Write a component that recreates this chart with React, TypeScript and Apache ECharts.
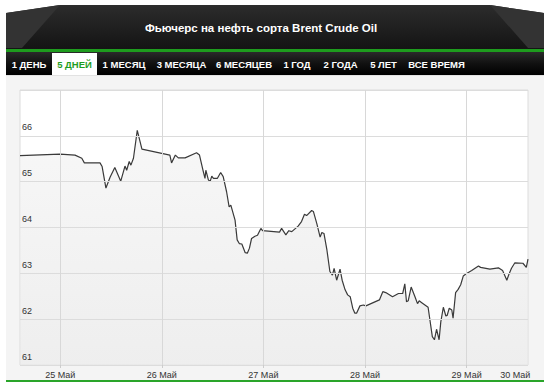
import React, { useEffect, useRef } from "react";
import * as echarts from "echarts";

// Hours since 25 May 00:00 and Brent price
const hours = [
  -9.5, 0, 3.5, 5.1, 5.7, 9.4, 9.9, 10.8, 11.8, 12.9, 14.3, 15.3, 15.7, 16.3, 16.7, 17.3, 18.2, 19.3,
  25.9, 26.3, 27.2, 27.9, 29.5, 32.2, 32.9, 33.8, 34.2, 34.4, 35.0, 35.4, 35.8, 36.2, 37.1, 37.9, 38.5,
  39.3, 39.9, 40.3, 41.3, 41.8, 42.3, 42.9, 43.7, 44.2, 44.7, 45.2, 46.0, 46.6, 47.4, 47.8, 51.8, 52.3,
  53.3, 54.0, 54.7, 56.2, 57.0, 57.7, 58.2, 59.4, 59.8, 60.6, 61.4, 61.8, 62.3, 63.0, 63.7, 64.3, 64.7,
  65.3, 66.1, 66.6, 67.3, 67.9, 68.5, 69.1, 69.6, 70.0, 70.8, 71.6, 72.2, 75.4, 76.2, 76.9, 78.5, 79.9,
  80.9, 81.4, 81.8, 82.2, 82.9, 83.8, 84.4, 84.8, 85.4, 86.9, 87.9, 88.4, 88.9, 89.5, 89.9, 90.5, 91.1,
  91.4, 91.9, 92.5, 92.8, 93.4, 94.0, 94.6, 95.2, 95.9, 97.2, 98.8, 99.3, 101.5, 103.5, 104.5, 105.5,
  106.0, 106.6, 107.4, 109.3, 110.1, 110.5,
];
const prices = [
  65.57, 65.6, 65.58, 65.51, 65.41, 65.41, 65.33, 64.86, 65.1, 65.31, 65.01, 65.34, 65.25, 65.44, 65.36, 65.51, 66.12, 65.71,
  65.58, 65.41, 65.58, 65.52, 65.52, 65.63, 65.58, 65.22, 65.07, 65.25, 65.04, 65.0, 65.12, 65.07, 65.07, 65.2, 65.11,
  64.78, 64.45, 64.49, 64.16, 63.73, 63.65, 63.64, 63.45, 63.44, 63.55, 63.76, 63.81, 63.83, 63.98, 63.93, 63.9, 63.98,
  63.84, 63.93, 63.91, 64.03, 64.13, 64.29, 64.26, 64.37, 64.35, 64.09, 63.79, 63.89, 63.87, 63.51, 63.04, 62.96, 63.11,
  62.85, 63.09, 62.85, 62.64, 62.53, 62.49, 62.24, 62.13, 62.13, 62.29, 62.31, 62.29, 62.42, 62.6, 62.58, 62.49, 62.56,
  62.56, 62.77, 62.38, 62.4, 62.7, 62.49, 62.34, 62.4, 62.36, 62.26, 61.62, 61.55, 61.78, 61.55, 61.94, 62.26, 62.07,
  62.08, 62.24, 62.2, 62.02, 62.58, 62.65, 62.75, 62.94, 62.99, 63.06, 63.16, 63.13, 63.09, 63.12, 63.06, 62.85,
  62.98, 63.11, 63.23, 63.22, 63.13, 63.31,
];

const dayLabels = ["25 Май", "26 Май", "27 Май", "28 Май", "29 Май", "30 Май"];
const dayLabelHours = [0, 24, 48, 72, 96, 107.5];
const dayLineHours = [0, 24, 48, 72, 96];

const title = "Фьючерс на нефть сорта Brent Crude Oil";
const tabs = ["1 ДЕНЬ", "5 ДНЕЙ", "1 МЕСЯЦ", "3 МЕСЯЦА", "6 МЕСЯЦЕВ", "1 ГОД", "2 ГОДА", "5 ЛЕТ", "ВСЕ ВРЕМЯ"];
const activeTab = 1;
const tabCenters = [29, 74.5, 124, 181.5, 244, 297, 340.5, 383.5, 436.5];

export default function App() {
  const ref = useRef<HTMLDivElement>(null);
  useEffect(() => {
    document.body.style.margin = "0";
    const chart = echarts.init(ref.current!, null, { renderer: "svg" });
    const data = hours.map((h, i) => [h, prices[i]]);
    const font = "'Liberation Sans', Arial, sans-serif";
    const tabEls: any[] = tabs.map((t, i) => ({
      type: "text",
      x: tabCenters[i],
      y: 64,
      z: 10,
      style: {
        text: t,
        fill: i === activeTab ? "#1f9e1f" : "#ffffff",
        font: `bold 9.5px 'Liberation Sans Narrow', 'Liberation Sans', Arial, sans-serif`,
        textAlign: "center",
        textVerticalAlign: "middle",
      },
    }));
    chart.setOption({
      animation: false,
      backgroundColor: "transparent",
      textStyle: { fontFamily: font },
      graphic: [
        {
          type: "polygon",
          z: 1,
          shape: { points: [[6, 13], [60, 5], [490, 5], [544, 13], [544, 49], [6, 49]] },
          style: {
            fill: new echarts.graphic.LinearGradient(0, 0, 0, 1, [
              { offset: 0, color: "#2c2c2c" },
              { offset: 1, color: "#141414" },
            ]),
          },
        },
        {
          type: "polygon",
          z: 2,
          shape: { points: [[6, 13], [60, 5], [22, 48], [6, 48]] },
          style: { fill: "#333333" },
        },
        {
          type: "polygon",
          z: 2,
          shape: { points: [[544, 13], [490, 5], [528, 48], [544, 48]] },
          style: { fill: "#333333" },
        },
        {
          type: "text",
          x: 261,
          y: 28,
          z: 5,
          style: {
            text: title,
            fill: "#ffffff",
            font: `bold 11.5px ${font}`,
            textAlign: "center",
            textVerticalAlign: "middle",
          },
        },
        { type: "rect", z: 3, shape: { x: 6, y: 49, width: 538, height: 3 }, style: { fill: "#1e9c1e" } },
        {
          type: "rect",
          z: 3,
          shape: { x: 6, y: 52, width: 538, height: 23 },
          style: {
            fill: new echarts.graphic.LinearGradient(0, 0, 0, 1, [
              { offset: 0, color: "#2a2a2a" },
              { offset: 0.5, color: "#111111" },
              { offset: 1, color: "#000000" },
            ]),
          },
        },
        { type: "rect", z: 4, shape: { x: 52, y: 53, width: 45, height: 22 }, style: { fill: "#ffffff" } },
        { type: "rect", z: 3, shape: { x: 6, y: 380, width: 538, height: 2 }, style: { fill: "#2aa52a" } },
        ...tabEls,
      ],
      grid: {
        left: 20,
        top: 90,
        width: 508,
        height: 275,
        show: true,
        backgroundColor: "#ffffff",
        borderColor: "#dcdcdc",
        borderWidth: 1,
      },
      xAxis: {
        type: "value",
        min: -9.5,
        max: 110.5,
        z: 5,
        axisLine: { show: false },
        splitLine: { show: false },
        axisTick: {
          show: true,
          customValues: dayLineHours,
          length: 3,
          lineStyle: { color: "#cccccc" },
        },
        axisLabel: {
          customValues: dayLabelHours,
          margin: 5,
          color: "#333333",
          fontSize: 9,
          fontFamily: font,
          formatter: (v: number) => {
            let best = 0;
            dayLabelHours.forEach((h, i) => {
              if (Math.abs(h - v) < Math.abs(dayLabelHours[best] - v)) best = i;
            });
            return dayLabels[best];
          },
        },
      },
      yAxis: {
        type: "value",
        min: 61,
        max: 67,
        interval: 1,
        z: 5,
        axisLine: { show: false },
        axisTick: { show: false },
        splitLine: { show: true, lineStyle: { color: "#dcdcdc", width: 1 } },
        axisLabel: {
          inside: true,
          showMaxLabel: false,
          margin: 2,
          align: "left",
          verticalAlign: "bottom",
          padding: [0, 0, 4, 0],
          color: "#333333",
          fontSize: 9,
          fontFamily: font,
        },
      },
      series: [
        {
          type: "line",
          data,
          showSymbol: false,
          lineStyle: { color: "#3a3a3a", width: 1.2 },
          areaStyle: {
            color: new echarts.graphic.LinearGradient(0, 0, 0, 1, [
              { offset: 0, color: "#f4f4f4" },
              { offset: 1, color: "#e7e7e7" },
            ]),
            origin: "start",
          },
          markLine: {
            silent: true,
            symbol: "none",
            label: { show: false },
            lineStyle: { color: "#d8d8d8", type: "solid", width: 1 },
            data: dayLineHours.map((h) => ({ xAxis: h })),
          },
          z: 2,
        },
      ],
    });
    return () => chart.dispose();
  }, []);
  return (
    <div style={{ position: "relative", width: 550, height: 383, background: "#ffffff" }}>
      <div
        style={{
          position: "absolute",
          left: 6,
          top: 75,
          width: 538,
          height: 305,
          background: "#f4f4f4",
          borderTop: "1px solid #e2e2e2",
          boxSizing: "border-box",
        }}
      />
      <div ref={ref} style={{ position: "absolute", left: 0, top: 0, width: 550, height: 383 }} />
    </div>
  );
}
